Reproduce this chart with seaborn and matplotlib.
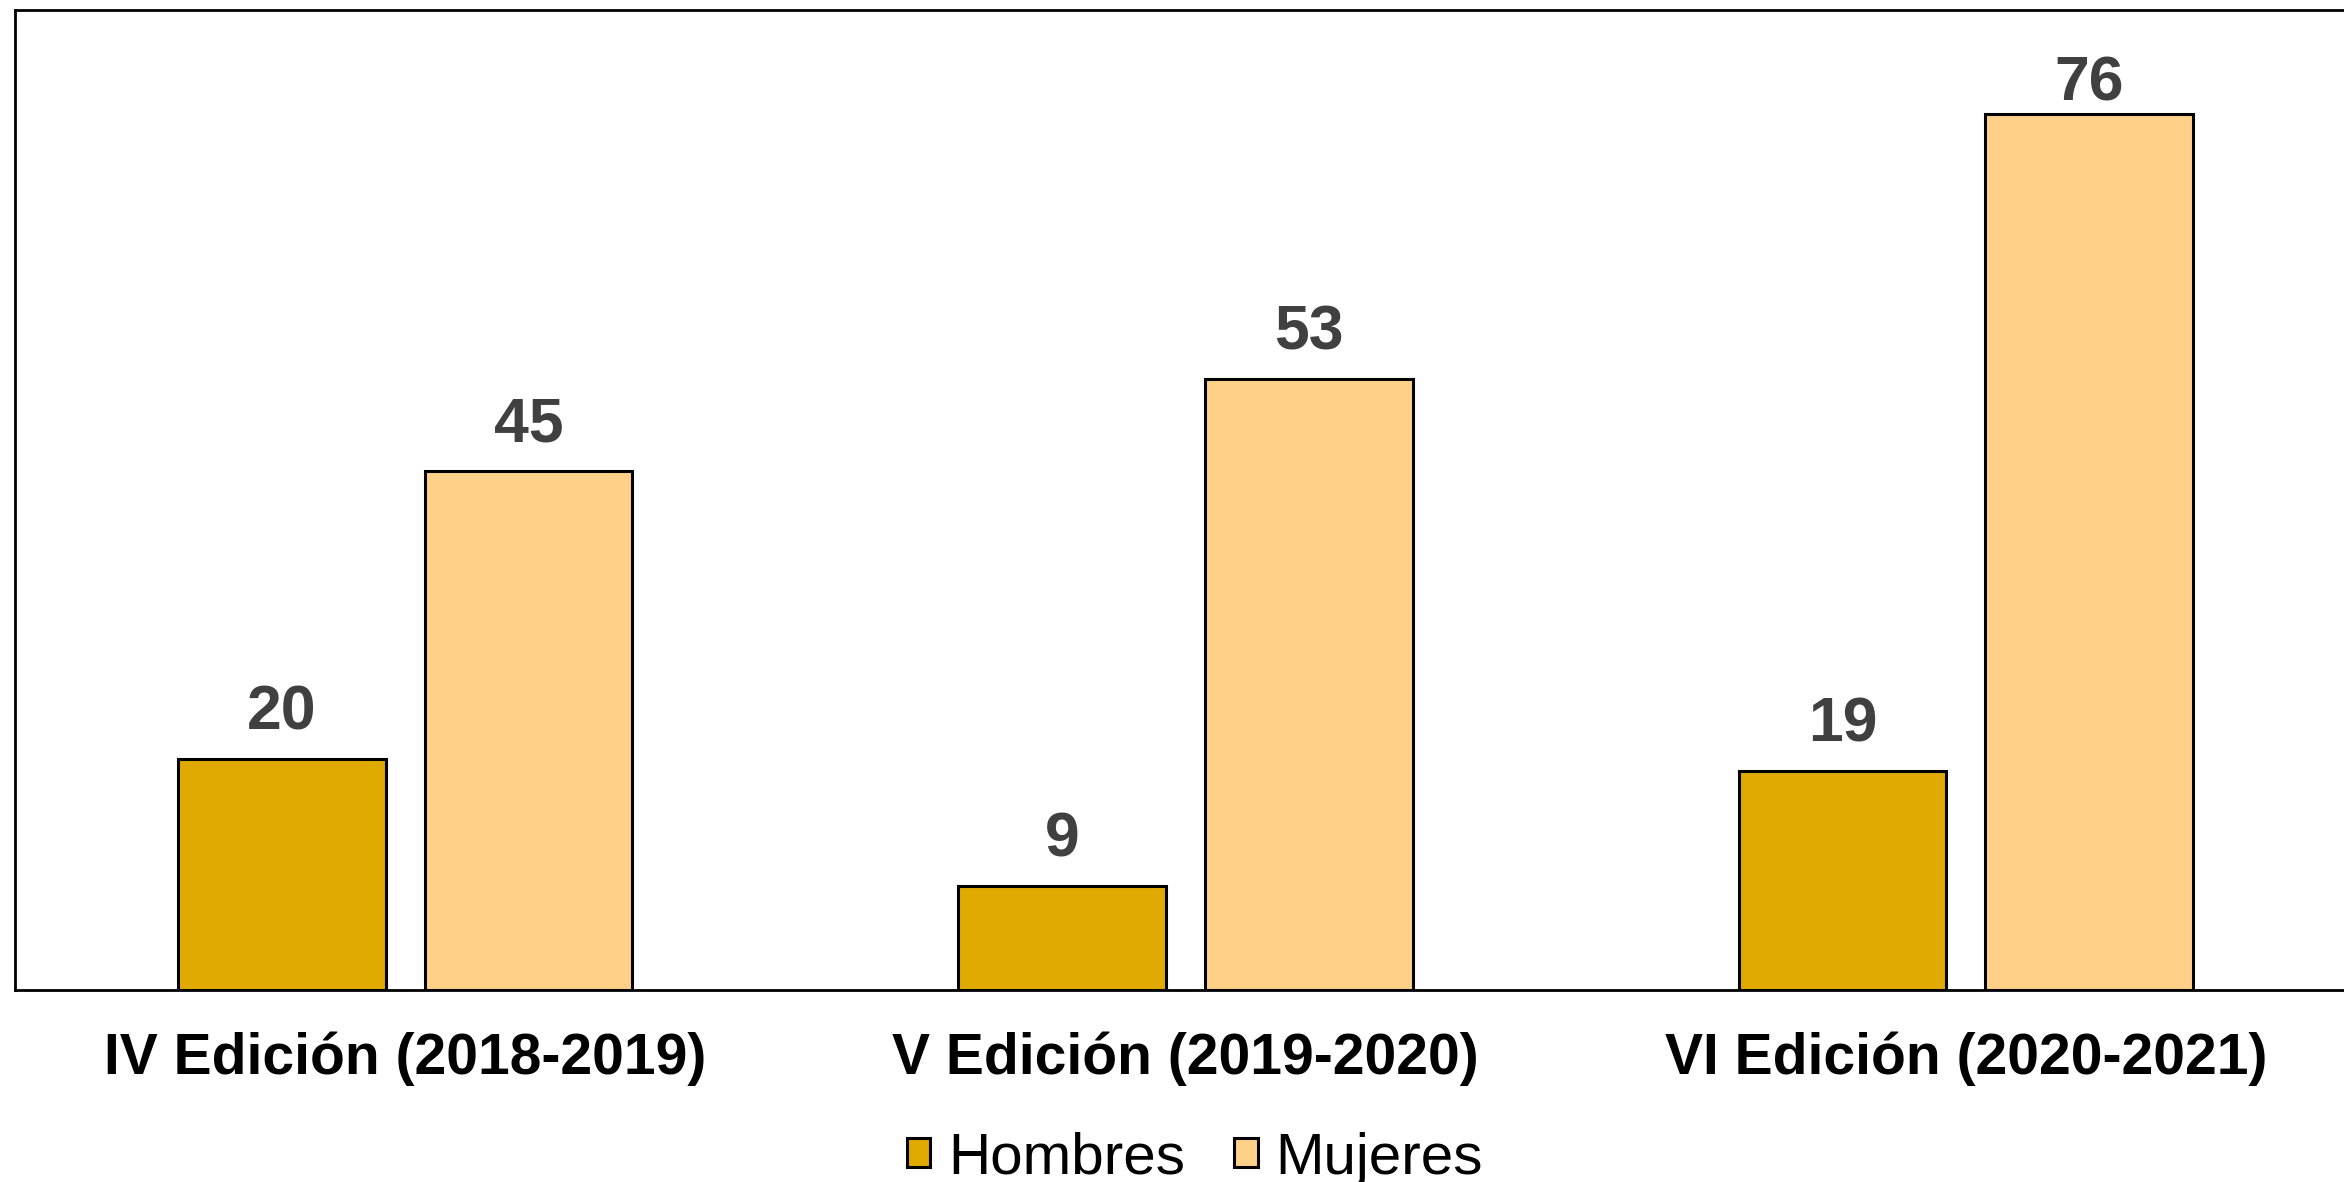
import matplotlib
matplotlib.use("Agg")
import pandas as pd
import matplotlib.pyplot as plt
import seaborn as sns

# datos
ediciones = ["IV Edición (2018-2019)", "V Edición (2019-2020)", "VI Edición (2020-2021)"]
hombres = [20, 9, 19]
mujeres = [45, 53, 76]
colores = ["#E0AA00", "#FFD088"]

df = pd.DataFrame({
    "edicion": ediciones * 2,
    "sexo": ["Hombres"] * 3 + ["Mujeres"] * 3,
    "n": hombres + mujeres,
})

sns.set_style("white")
plt.rcParams['font.family'] = ['Liberation Sans', 'DejaVu Sans']

fig = plt.figure(figsize=(23.44, 11.82), dpi=100)
ax = fig.add_axes([0.0064, 0.1624, 0.9987, 0.829])

sns.barplot(data=df, x="edicion", y="n", hue="sexo", palette=colores,
            width=0.632, gap=0.158, edgecolor="black", linewidth=2.2,
            saturation=1, ax=ax)

etiquetas = []
for c in ax.containers:
    etiquetas += ax.bar_label(c, padding=12, fontsize=45, fontweight="bold", color="#404040")
# la etiqueta del 76 queda pegada a la barra (límite superior)
etiquetas[-1].xyann = (0, 0)

ax.set_ylim(0, 85)
ax.set_xlim(-0.5, 2.5)
ax.set_yticks([])
ax.set_xlabel("")
ax.set_ylabel("")
ax.tick_params(axis="x", length=0, pad=30)
for lab in ax.get_xticklabels():
    lab.set_fontsize(41)
    lab.set_fontweight("bold")
    lab.set_color("black")
for s in ax.spines.values():
    s.set_linewidth(2)
    s.set_color("black")

leg = ax.legend(loc="center", bbox_to_anchor=(0.504, -0.172), ncol=2, frameon=False,
                fontsize=42, handlelength=0.4, handleheight=0.4, handletextpad=0.3,
                columnspacing=0.85)
for t in leg.get_texts():
    t.set_color("black")

fig.savefig("out.png", dpi=100)
